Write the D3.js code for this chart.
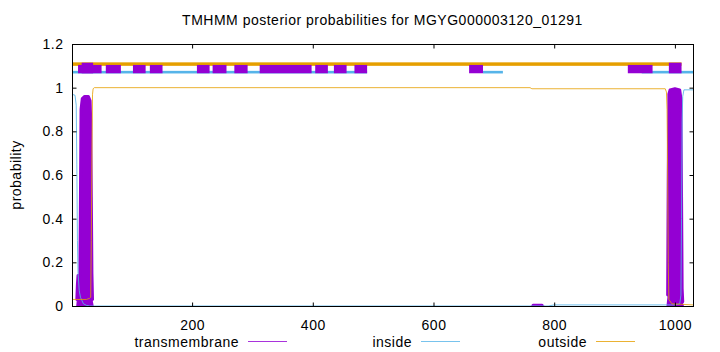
<!DOCTYPE html>
<html>
<head>
<meta charset="utf-8">
<script src="https://cdn.jsdelivr.net/npm/d3@7"></script>
<style>
  html, body { margin: 0; padding: 0; background: #fff; }
  svg { display: block; }
  text { font-family: "Liberation Sans", Arial, Helvetica, sans-serif; fill: #000; letter-spacing: 0.5px; }
</style>
</head>
<body>
<svg id="chart" width="720" height="352"></svg>
<script>
// ---------------- data ----------------
const titleText = "TMHMM posterior probabilities for MGYG000003120_01291";
const yLabel = "probability";
const xDomain = [1, 1030];
const yDomain = [0, 1.2];
const xTicks = [200, 400, 600, 800, 1000];
const yTicks = [0, 0.2, 0.4, 0.6, 0.8, 1, 1.2];
const yTickLabels = ["0", "0.2", "0.4", "0.6", "0.8", "1", "1.2"];
const seriesNames = ["transmembrane", "inside", "outside"];

// posterior probability traces (residue, probability)
const tmRes  = [1, 8, 9, 10, 11, 14, 15, 16, 18, 22, 28, 31, 32, 33, 34, 35, 37, 760, 765, 770, 780, 785, 986, 988, 989, 990, 992, 1000, 1008, 1010, 1011, 1012, 1013, 1015, 1030];
const tmProb = [0, 0, 0.03, 0.1, 0.14, 0.14, 0.5, 0.9, 0.95, 0.96, 0.96, 0.94, 0.85, 0.5, 0.15, 0.03, 0, 0, 0.003, 0.004, 0.004, 0, 0, 0.05, 0.6, 0.97, 0.99, 0.995, 0.99, 0.95, 0.5, 0.08, 0.02, 0, 0];

const inRes  = [1, 6, 8, 9, 10, 11, 13, 15, 20, 25, 30, 790, 800, 985, 1000, 1008, 1010, 1011, 1012, 1013, 1015, 1030];
const inProb = [0.97, 0.965, 0.92, 0.65, 0.3, 0.15, 0.07, 0.04, 0.01, 0.003, 0, 0, 0.005, 0.005, 0.005, 0.01, 0.05, 0.4, 0.85, 0.96, 0.99, 0.99];

const outRes  = [1, 25, 30, 32, 33, 34, 35, 36, 38, 760, 763, 984, 986, 987, 988, 989, 990, 995, 1030];
const outProb = [0.03, 0.03, 0.035, 0.04, 0.3, 0.7, 0.97, 0.995, 1.0, 1.0, 0.995, 0.995, 0.98, 0.9, 0.6, 0.2, 0.03, 0.01, 0.005];

// predicted topology bands at the top (residue ranges)
const outBandStart = [1];
const outBandEnd   = [1011];
const inBandStart  = [1, 682, 945];
const inBandEnd    = [490, 715, 1030];
const tmBandStart  = [11, 57, 102, 130, 208, 234, 270, 312, 404, 435, 469, 659, 922];
const tmBandEnd    = [50, 82, 123, 151, 229, 257, 292, 398, 425, 456, 490, 682, 963];
const tmTallStart  = [17, 990];
const tmTallEnd    = [36, 1011];
const bandLevels = { outside: 1.108, inside: 1.071, tm: 1.085, tmTall: 1.090 };

// ---------------- layout ----------------
const colors = { tm: "#9400d3", inside: "#56b4e9", outside: "#e69f00" };
const plot = { left: 72, right: 693, top: 44, bottom: 306 };
const fontSize = 14;

const svg = d3.select("#chart");
const x = d3.scaleLinear().domain(xDomain).range([plot.left, plot.right]);
const y = d3.scaleLinear().domain(yDomain).range([plot.bottom, plot.top]);

const zip = (a, b) => a.map((r, i) => ({ r, p: b[i] }));
const tmData = zip(tmRes, tmProb);
const inData = zip(inRes, inProb);
const outData = zip(outRes, outProb);

svg.append("defs").append("clipPath").attr("id", "clip")
  .append("rect").attr("x", plot.left).attr("y", plot.top)
  .attr("width", plot.right - plot.left).attr("height", plot.bottom - plot.top);

const g = svg.append("g").attr("clip-path", "url(#clip)");

// top bands
function band(starts, ends, level, thick, color) {
  g.selectAll(null).data(starts.map((s, i) => [s, ends[i]])).enter()
    .append("rect")
    .attr("x", d => x(d[0]))
    .attr("width", d => x(d[1]) - x(d[0]))
    .attr("y", y(level) - thick / 2)
    .attr("height", thick)
    .attr("fill", color);
}
band(outBandStart, outBandEnd, bandLevels.outside, 3.5, colors.outside);
band(inBandStart, inBandEnd, bandLevels.inside, 2.6, colors.inside);
band(tmBandStart, tmBandEnd, bandLevels.tm, 8.3, colors.tm);
band(tmTallStart, tmTallEnd, bandLevels.tmTall, 10.6, colors.tm);

// transmembrane: filled profile with rounded outline
const area = d3.area().x(d => x(d.r)).y0(y(0)).y1(d => y(d.p));
g.append("path").datum(tmData).attr("d", area).attr("fill", colors.tm);
const tmLine = d3.line().defined(d => d.p > 0).x(d => x(d.r)).y(d => y(d.p));
g.append("path").datum(tmData).attr("d", tmLine)
  .attr("fill", "none").attr("stroke", colors.tm)
  .attr("stroke-width", 3).attr("stroke-linejoin", "round").attr("stroke-linecap", "round");

const line = d3.line().x(d => x(d.r)).y(d => y(d.p));
g.append("path").datum(inData).attr("d", line)
  .attr("fill", "none").attr("stroke", colors.inside).attr("stroke-width", 1).attr("stroke-opacity", 0.85);
g.append("path").datum(outData).attr("d", line)
  .attr("fill", "none").attr("stroke", colors.outside).attr("stroke-width", 1).attr("stroke-opacity", 0.8);

// frame
svg.append("rect").attr("x", plot.left + 0.5).attr("y", plot.top + 0.5)
  .attr("width", plot.right - plot.left).attr("height", plot.bottom - plot.top)
  .attr("fill", "none").attr("stroke", "#000").attr("stroke-width", 1);

// axes (gnuplot style inward ticks, mirrored)
const tickLen = 4;
const axB = svg.append("g").attr("transform", `translate(0,${plot.bottom + 0.5})`)
  .call(d3.axisBottom(x).tickValues(xTicks).tickSizeInner(-tickLen).tickSizeOuter(0).tickPadding(14)
    .tickFormat(d3.format("d")));
const axT = svg.append("g").attr("transform", `translate(0,${plot.top + 0.5})`)
  .call(d3.axisTop(x).tickValues(xTicks).tickSizeInner(-tickLen).tickSizeOuter(0).tickFormat(""));
const axL = svg.append("g").attr("transform", `translate(${plot.left + 0.5},0)`)
  .call(d3.axisLeft(y).tickValues(yTicks).tickSizeInner(-tickLen).tickSizeOuter(0).tickPadding(9)
    .tickFormat((d, i) => yTickLabels[i]));
const axR = svg.append("g").attr("transform", `translate(${plot.right + 0.5},0)`)
  .call(d3.axisRight(y).tickValues(yTicks).tickSizeInner(-tickLen).tickSizeOuter(0).tickFormat(""));
[axB, axT, axL, axR].forEach(a => {
  a.select(".domain").remove();
  a.selectAll("line").attr("stroke", "#000");
  a.selectAll("text").attr("font-size", fontSize).attr("font-family", "Liberation Sans, Arial, sans-serif").attr("fill", "#000");
});

// title & y label
svg.append("text").attr("x", (plot.left + plot.right) / 2).attr("y", 25)
  .attr("text-anchor", "middle").attr("font-size", fontSize).text(titleText);
svg.append("text").attr("transform", `translate(21,${(plot.top + plot.bottom) / 2}) rotate(-90)`)
  .attr("text-anchor", "middle").attr("font-size", fontSize).text(yLabel);

// legend
const legendTextEnd = [239, 412, 587];
const legendColors = [colors.tm, colors.inside, colors.outside];
seriesNames.forEach((name, i) => {
  svg.append("text").attr("x", legendTextEnd[i]).attr("y", 347)
    .attr("text-anchor", "end").attr("font-size", fontSize).text(name);
  svg.append("line").attr("x1", legendTextEnd[i] + 9).attr("x2", legendTextEnd[i] + 48)
    .attr("y1", 341.5).attr("y2", 341.5)
    .attr("stroke", legendColors[i]).attr("stroke-width", 1.2).attr("stroke-opacity", 0.8);
});
</script>
</body>
</html>
